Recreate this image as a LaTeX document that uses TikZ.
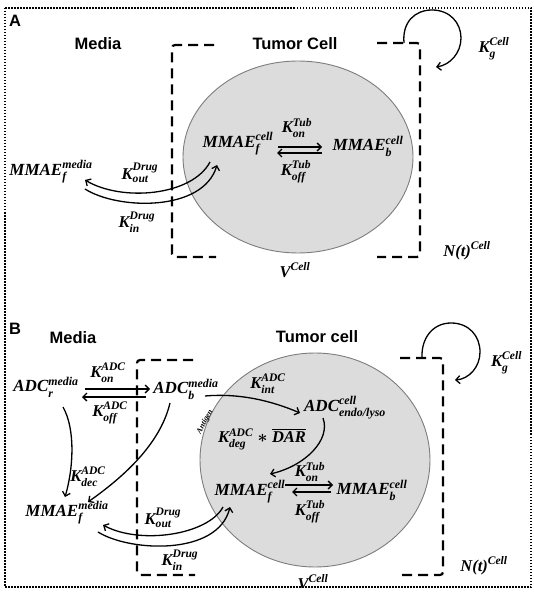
\documentclass[tikz,border=0pt]{standalone}
\usepackage{amsmath}
\usepackage{fontspec}
\newfontfamily\sansb{Liberation Sans}
\newfontfamily\mf{Liberation Serif}
\newcommand\lbl[3]{$\text{#1}_{\text{#2}}^{\text{#3}}$}
\usetikzlibrary{arrows.meta,calc}
\begin{document}
\begin{tikzpicture}[x=1pt,y=-1pt,
  lab/.style={font=\fontsize{17}{19}\selectfont\mf\bfseries\itshape\boldmath, inner sep=0pt},
  klab/.style={font=\fontsize{16.5}{18}\selectfont\mf\bfseries\itshape\boldmath, inner sep=0pt},
  ttl/.style={font=\fontsize{16.5}{18}\selectfont\sansb\bfseries, inner sep=0pt},
  arr/.style={line width=1.3pt, -{Straight Barb[length=4pt,width=8pt]}},
  brk/.style={line width=2.2pt, dash pattern=on 10pt off 6pt, rounded corners=3pt},
  cellfill/.style={fill={rgb,255:red,220;green,220;blue,220}, draw={rgb,255:red,125;green,125;blue,125}, line width=0.9pt},
  frame/.style={line width=2pt, dash pattern=on 1.5pt off 1.5pt}
]
\useasboundingbox (0,0) rectangle (534,593);
\fill[white] (0,0) rectangle (534,593);
\begin{scope}
\clip (5,8) rectangle (531,587);
% ---------------- Panel A ----------------
\node[ttl] (Alab) at (15,21) {A};
\node[ttl] (Amedia) at (98,44) {Media};
\node[ttl] (Atumor) at (295,44) {Tumor Cell};
\draw[brk] (214,45) -- (172,45) -- (172,257) -- (216,257);
\draw[brk] (377,43) -- (420,43) -- (420,257) -- (377,257);
\draw[cellfill] (298,157) ellipse [x radius=115, y radius=96];
\node[lab] (Afc) at (238,144) {\lbl{MMAE}{f}{cell}};
\node[lab] (Afb) at (368,146) {\lbl{MMAE}{b}{cell}};
\node[klab] (AKon) at (297,128) {\lbl{K}{on}{Tub}};
\node[klab] (AKoff) at (296,172) {\lbl{K}{off}{Tub}};
\draw[arr] (278,147) -- (322,147);
\draw[arr] (322,153) -- (277,153);
\node[lab] (Afm) at (51,172) {\lbl{MMAE}{f}{media}};
\node[klab] (AKout) at (140,173) {\lbl{K}{out}{Drug}};
\node[klab] (AKin) at (137,222) {\lbl{K}{in}{Drug}};
\coordinate (AoutS) at (210,162);
\coordinate (AoutE) at (85,180);
\coordinate (AinS) at (85,189);
\coordinate (AinE) at (217,165);
\draw[arr] (AoutS) .. controls (192,196) and (122,202) .. (AoutE);
\draw[arr] (AinS) .. controls (118,210) and (203,212) .. (AinE);
\node[klab] (AKg) at (494,49) {\lbl{K}{g}{Cell}};
\coordinate (AloopS) at (404,43);
\coordinate (AloopE) at (436,67);
\draw[arr] (AloopS) .. controls (402,22) and (415,10) .. (432,10) .. controls (450,10) and (461,23) .. (461,38) .. controls (461,53) and (450,65) .. (AloopE);
\node[klab] (AN) at (467,251) {$\text{N(t)}^{\text{Cell}}$};
\node[klab] (AV) at (295,270) {$\text{V}^{\text{Cell}}$};
% ---------------- Panel B ----------------
\node[ttl] (Blab) at (15,329) {B};
\node[ttl] (Bmedia) at (73,338) {Media};
\node[ttl] (Btumor) at (317,337) {Tumor cell};
\draw[brk] (193,360) -- (137,360) -- (137,575) -- (195,575);
\draw[brk] (400,358) -- (443,358) -- (443,575) -- (400,575);
\draw[cellfill] (315,460) ellipse [x radius=115, y radius=107];
\node[lab] (Badcr) at (46,387) {\lbl{ADC}{r}{media}};
\node[lab] (Badcb) at (186,389) {\lbl{ADC}{b}{media}};
\node[klab] (BKon) at (108,373) {\lbl{K}{on}{ADC}};
\node[klab] (BKoff) at (110,413) {\lbl{K}{off}{ADC}};
\draw[arr] (85,389) -- (150,389);
\draw[arr] (146,397) -- (82,397);
\node[font=\fontsize{8}{9}\selectfont\mf\bfseries\itshape, rotate=62, inner sep=0pt] (Bantigen) at (205,422) {Antigen};
\node[klab] (BKint) at (268,384) {\lbl{K}{int}{ADC}};
\node[lab] (Bendo) at (345,408) {\lbl{ADC}{endo/lyso}{cell}};
\coordinate (BintS) at (205,396);
\coordinate (BintE) at (300,413);
\draw[arr] (BintS) .. controls (240,393) and (272,401) .. (BintE);
\node[klab] (BKdeg) at (262,439) {$\text{K}_{\text{deg}}^{\text{ADC}}\ast\overline{\text{DAR}}$};
\coordinate (BdegS) at (323,418);
\coordinate (BdegE) at (270,474);
\draw[arr] (BdegS) .. controls (331,440) and (305,466) .. (BdegE);
\node[lab] (Bfc) at (250,492) {\lbl{MMAE}{f}{cell}};
\node[lab] (Bfb) at (372,490) {\lbl{MMAE}{b}{cell}};
\node[klab] (BKon2) at (310,472) {\lbl{K}{on}{Tub}};
\node[klab] (BKoff2) at (310,512) {\lbl{K}{off}{Tub}};
\draw[arr] (285,485) -- (333,485);
\draw[arr] (331,492) -- (292,492);
\node[klab] (BKdec) at (88,477) {\lbl{K}{dec}{ADC}};
\node[lab] (Bfm) at (67,513) {\lbl{MMAE}{f}{media}};
\coordinate (BdecS) at (63,407);
\coordinate (BdecE) at (65,497);
\draw[arr] (BdecS) .. controls (76,430) and (73,470) .. (BdecE);
\coordinate (BbS) at (170,403);
\coordinate (BbE) at (88,502);
\draw[arr] (BbS) .. controls (160,445) and (122,478) .. (BbE);
\node[klab] (BKout) at (163,518) {\lbl{K}{out}{Drug}};
\node[klab] (BKin) at (180,560) {\lbl{K}{in}{Drug}};
\coordinate (BoutS) at (223,507);
\coordinate (BoutE) at (103,525);
\coordinate (BinS) at (98,532);
\coordinate (BinE) at (230,507);
\draw[arr] (BoutS) .. controls (208,535) and (140,545) .. (BoutE);
\draw[arr] (BinS) .. controls (130,552) and (218,556) .. (BinE);
\node[klab, anchor=west] (BKg) at (491,363) {\lbl{K}{g}{Cell}};
\coordinate (BloopS) at (422,358);
\coordinate (BloopE) at (455,380);
\draw[arr] (BloopS) .. controls (421,338) and (433,323) .. (451,323) .. controls (469,323) and (480,336) .. (480,352) .. controls (480,367) and (469,379) .. (BloopE);
\node[klab] (BN) at (484,566) {$\text{N(t)}^{\text{Cell}}$};
\node[klab] (BV) at (313,582) {$\text{V}^{\text{Cell}}$};
\end{scope}
\draw[frame] (5,8) rectangle (531,587);
\end{tikzpicture}
\end{document}
